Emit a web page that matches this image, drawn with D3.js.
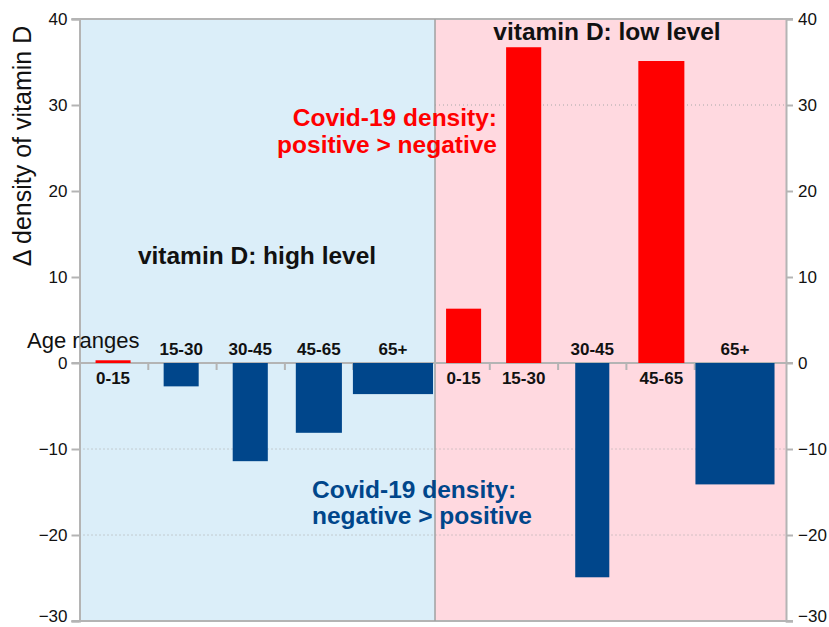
<!DOCTYPE html>
<html>
<head>
<meta charset="utf-8">
<script src="https://cdn.jsdelivr.net/npm/d3@7"></script>
<style>
  body { margin: 0; background: #fff; }
  text { font-family: "Liberation Sans", Arial, sans-serif; }
</style>
</head>
<body>
<svg id="chart" width="829" height="627"></svg>
<script>
(function() {

// age ranges, same for both panels
const ageRanges = ['0-15', '15-30', '30-45', '45-65', '65+'];

// Δ density of vitamin D, per age range
const highLevelValues = [0.2, -2.6, -11.3, -8.0, -3.5];
const lowLevelValues = [6.2, 36.6, -24.8, 35.0, -14.0];

// bar extents on the slot axis (one slot per tick), high panel then low panel
const barStart = [0.235, 1.232, 2.243, 3.167, 4.003, 5.367, 6.246, 7.258, 8.182, 9.018];
const barEnd = [0.748, 1.745, 2.757, 3.842, 5.176, 5.880, 6.760, 7.757, 8.856, 10.176];

// panels: [from, to] on the slot axis
const panelNames = ['vitamin D: high level', 'vitamin D: low level'];
const panelFrom = [0, 5.205];
const panelTo = [5.205, 10.344];

const yTicks = [-30, -20, -10, 0, 10, 20, 30, 40];
const slotTicks = [1, 2, 3, 4, 5, 6, 7, 8, 9, 10];

const svg = d3.select('#chart');
const left = 79.5, right = 786, top = 19, bottom = 621;

const x = d3.scaleLinear().domain([0, 10.344]).range([left, right]);
const y = d3.scaleLinear().domain([-30, 40]).range([bottom, top]);

const gray = '#b4b4b4';
const blue = '#00468b';
const red = '#ff0000';
const panelFill = ['#dbeef9', '#ffd9e0'];

// panel backgrounds
svg.selectAll('.panel')
  .data(panelNames)
  .enter().append('rect')
    .attr('class', 'panel')
    .attr('x', (d, i) => x(panelFrom[i]))
    .attr('y', y(40))
    .attr('width', (d, i) => x(panelTo[i]) - x(panelFrom[i]))
    .attr('height', y(-30) - y(40))
    .style('fill', (d, i) => panelFill[i]);

// dotted grid lines
const grid = [
  {v: -10, from: 0, to: 10.344},
  {v: -20, from: 0, to: 10.344},
  {v: 30, from: 5.205, to: 10.344}
];
svg.selectAll('.grid')
  .data(grid)
  .enter().append('line')
    .attr('class', 'grid')
    .attr('x1', d => x(d.from))
    .attr('x2', d => x(d.to))
    .attr('y1', d => y(d.v))
    .attr('y2', d => y(d.v))
    .style('stroke', '#a8a8a8')
    .style('stroke-width', 1)
    .style('stroke-dasharray', '1,3');

// frame
svg.append('line')
  .attr('x1', left - 8).attr('x2', right + 7)
  .attr('y1', y(40)).attr('y2', y(40))
  .style('stroke', gray).style('stroke-width', 2);
svg.append('line')
  .attr('x1', left - 8).attr('x2', right + 7)
  .attr('y1', y(-30)).attr('y2', y(-30))
  .style('stroke', gray).style('stroke-width', 2);
svg.append('line')
  .attr('x1', x(panelTo[0])).attr('x2', x(panelTo[0]))
  .attr('y1', y(40)).attr('y2', y(-30))
  .style('stroke', '#a0a0a0').style('stroke-width', 1.5);

// zero line + slot ticks
svg.append('g')
  .attr('transform', `translate(0,${y(0)})`)
  .call(d3.axisBottom(x).tickValues(slotTicks).tickSize(7).tickFormat(''))
  .call(g => g.select('.domain').remove())
  .call(g => g.selectAll('line').style('stroke', gray).style('stroke-width', 2));
svg.append('line')
  .attr('x1', left - 8).attr('x2', right + 7)
  .attr('y1', y(0)).attr('y2', y(0))
  .style('stroke', gray).style('stroke-width', 2);

// bars
const values = highLevelValues.concat(lowLevelValues);
const labels = ageRanges.concat(ageRanges);

const bars = svg.selectAll('.bar')
  .data(values)
  .enter().append('g')
    .attr('class', 'bar');

bars.append('rect')
  .attr('x', (d, i) => x(barStart[i]))
  .attr('width', (d, i) => x(barEnd[i]) - x(barStart[i]))
  .attr('y', d => y(Math.max(0, d)) - (d > 0 ? 1 : 0))
  .attr('height', d => Math.abs(y(d) - y(0)) + 1)
  .style('fill', d => d > 0 ? red : blue);

bars.append('text')
  .attr('x', (d, i) => (x(barStart[i]) + x(barEnd[i])) / 2)
  .attr('y', d => d > 0 ? y(0) + 21 : y(0) - 8)
  .attr('text-anchor', 'middle')
  .style('font-size', '17px')
  .style('font-weight', 'bold')
  .style('fill', '#111')
  .text((d, i) => labels[i]);

// y axes
const leftAxis = svg.append('g')
  .attr('transform', `translate(${left},0)`)
  .call(d3.axisLeft(y).tickValues(yTicks).tickSize(8).tickPadding(4));
const rightAxis = svg.append('g')
  .attr('transform', `translate(${right},0)`)
  .call(d3.axisRight(y).tickValues(yTicks).tickSize(7).tickPadding(5));

[leftAxis, rightAxis].forEach(a => {
  a.select('.domain').style('stroke', gray).style('stroke-width', 2);
  a.selectAll('line').style('stroke', gray).style('stroke-width', 2);
  a.selectAll('text')
    .style('font-size', '17px')
    .style('fill', '#111')
    .style('font-family', '"Liberation Sans", Arial, sans-serif')
    .attr('dy', d => d === -30 ? '0.02em' : '0.32em');
});

// y title
svg.append('text')
  .attr('transform', 'translate(31,146) rotate(-90)')
  .attr('text-anchor', 'middle')
  .style('font-size', '25px')
  .style('fill', '#111')
  .text('Δ density of vitamin D');

svg.append('text')
  .attr('x', 27)
  .attr('y', 348)
  .style('font-size', '22px')
  .style('fill', '#111')
  .text('Age ranges');

// panel titles
svg.append('text')
  .attr('x', 257).attr('y', 264)
  .attr('text-anchor', 'middle')
  .style('font-size', '24.5px')
  .style('font-weight', 'bold')
  .style('fill', '#111')
  .text(panelNames[0]);
svg.append('text')
  .attr('x', 607).attr('y', 40)
  .attr('text-anchor', 'middle')
  .style('font-size', '24.5px')
  .style('font-weight', 'bold')
  .style('fill', '#111')
  .text(panelNames[1]);

// covid density notes
const posNote = svg.append('text')
  .attr('text-anchor', 'end')
  .style('font-size', '24.5px')
  .style('font-weight', 'bold')
  .style('fill', red);
posNote.selectAll('tspan')
  .data(['Covid-19 density:', 'positive > negative'])
  .enter().append('tspan')
    .attr('x', 497)
    .attr('y', (d, i) => 126 + i * 27)
    .text(d => d);

const negNote = svg.append('text')
  .attr('text-anchor', 'start')
  .style('font-size', '24.5px')
  .style('font-weight', 'bold')
  .style('fill', blue);
negNote.selectAll('tspan')
  .data(['Covid-19 density:', 'negative > positive'])
  .enter().append('tspan')
    .attr('x', 312)
    .attr('y', (d, i) => 498 + i * 26)
    .text(d => d);

})();
</script>
</body>
</html>
